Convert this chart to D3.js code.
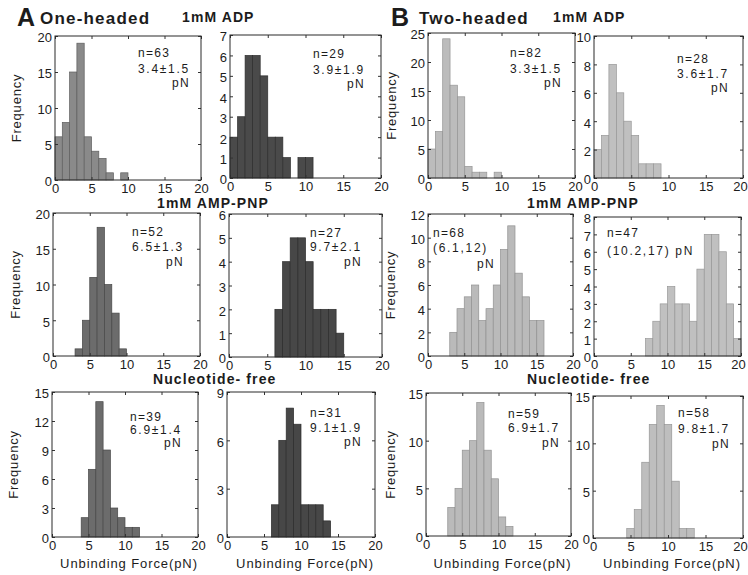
<!DOCTYPE html>
<html>
<head>
<meta charset="utf-8">
<script src="https://cdn.jsdelivr.net/npm/d3@7"></script>
<style>
  body { margin: 0; background: #fff; }
  svg text { font-family: "Liberation Sans", Arial, Helvetica, sans-serif; fill: #1c1c1c; }
</style>
</head>
<body>
<svg id="fig" width="748" height="575"></svg>
<script>
// Unbinding-force histograms (1 pN bins); counts start at the bin given in binStarts
const countsOneADP_a = [6, 8, 15, 19, 6, 4, 3, 1, 0, 1];
const countsOneADP_b = [2, 3, 6, 6, 5, 2, 2, 1, 0, 1, 1];
const countsTwoADP_a = [5, 8, 24, 16, 14, 2, 1, 1, 0, 1];
const countsTwoADP_b = [2, 3, 8, 6, 4, 3, 1, 1, 1];
const countsOneAMP_a = [1, 5, 11, 18, 10, 6, 1];
const countsOneAMP_b = [2, 4, 5, 5, 4, 2, 2, 2, 1];
const countsTwoAMP_a = [2, 4, 5, 6, 3, 4, 6, 9, 11, 7, 5, 3, 3];
const countsTwoAMP_b = [1, 2, 3, 4, 3, 3, 2, 5, 7, 7, 6, 3, 1];
const countsOneNF_a  = [2, 7, 14, 9, 3, 2, 1, 1];
const countsOneNF_b  = [2, 6, 8, 7, 2, 2, 2, 1];
const countsTwoNF_a  = [3, 5, 9, 10, 14, 9, 6, 2, 1];
const countsTwoNF_b  = [1, 3, 8, 12, 14, 12, 6, 1, 1];

const binStarts = [0, 0, 0, 0, 3, 6, 3, 7, 4, 6, 3, 4.5];
const yMaxes    = [20, 7, 25, 10, 20, 6, 12, 8, 15, 9, 15, 15];
const yTickStep = [5, 1, 5, 2, 5, 1, 2, 1, 3, 3, 5, 5];
const xTicks    = [0, 5, 10, 15, 20];
const sampleSizes = [63, 29, 82, 28, 52, 27, 68, 47, 39, 31, 59, 58];
const forceStats  = ["3.4\u00b11.5", "3.9\u00b11.9", "3.3\u00b11.5", "3.6\u00b11.7",
                     "6.5\u00b11.3", "9.7\u00b12.1", "(6.1,12)", "(10.2,17) pN",
                     "6.9\u00b11.4", "9.1\u00b11.9", "6.9\u00b11.7", "9.8\u00b11.7"];
const conditions  = ["1mM ADP", "1mM AMP-PNP", "Nucleotide- free"];
const constructs  = ["One-headed", "Two-headed"];
const letters     = ["A", "B"];
const yLabel = "Frequency";
const xLabel = "Unbinding Force(pN)";

const allCounts = [countsOneADP_a, countsOneADP_b, countsTwoADP_a, countsTwoADP_b,
                   countsOneAMP_a, countsOneAMP_b, countsTwoAMP_a, countsTwoAMP_b,
                   countsOneNF_a, countsOneNF_b, countsTwoNF_a, countsTwoNF_b];

// ---- layout ----
const boxes = [
  [55, 36, 201, 180], [230, 35, 381, 178], [428, 33, 575, 178], [594, 36, 743, 178],
  [53, 213, 200, 356], [229, 214, 382, 357], [428, 214, 573, 356], [594, 217, 741, 356],
  [52, 392, 198, 537], [227, 392, 375, 537], [426, 393, 571, 536], [593, 396, 743, 538]
];
const noteX  = [83, 83, 82, 83, 79, 81, 5, 13, 78, 83, 82, 85];
const noteDy = [[21, 37, 51], [23, 39, 53], [24, 40, 54], [27, 42, 56],
                [23, 38, 53], [23, 37, 52], [23, 38, 54], [20, 38, null],
                [29, 42, 55], [25, 40, 54], [25, 39, 54], [21, 37, 52]];
const fills   = ["#8a8a8a", "#4a4a4a", "#bcbcbc", "#c0c0c0",
                 "#6c6c6c", "#474747", "#bababa", "#c0c0c0",
                 "#6c6c6c", "#474747", "#bababa", "#bebebe"];
const strokes = ["#5e5e5e", "#2e2e2e", "#959595", "#989898",
                 "#484848", "#2c2c2c", "#929292", "#989898",
                 "#484848", "#2c2c2c", "#929292", "#969696"];

const svg = d3.select("#fig");
const intFmt = d3.format("d");

allCounts.forEach((counts, i) => {
  const [x0, y0, x1, y1] = boxes[i];
  const x = d3.scaleLinear().domain([0, 20]).range([x0, x1]);
  const y = d3.scaleLinear().domain([0, yMaxes[i]]).range([y1, y0]);
  const g = svg.append("g");

  const bins = counts.map((n, k) => ({ lo: binStarts[i] + k, hi: binStarts[i] + k + 1, n }))
                     .filter(d => d.n > 0);
  g.selectAll("rect.bar").data(bins).join("rect")
    .attr("class", "bar")
    .attr("x", d => x(d.lo))
    .attr("width", d => x(d.hi) - x(d.lo))
    .attr("y", d => y(d.n))
    .attr("height", d => y(0) - y(d.n))
    .attr("fill", fills[i])
    .attr("stroke", strokes[i])
    .attr("stroke-width", 0.7);

  const yTicks = d3.range(0, yMaxes[i] + 0.001, yTickStep[i]);

  const bottom = g.append("g").attr("transform", `translate(0,${y1})`)
    .call(d3.axisBottom(x).tickValues(xTicks).tickFormat(intFmt)
      .tickSizeInner(-3).tickSizeOuter(0).tickPadding(4));
  const left = g.append("g").attr("transform", `translate(${x0},0)`)
    .call(d3.axisLeft(y).tickValues(yTicks).tickFormat(intFmt)
      .tickSizeInner(-3).tickSizeOuter(0).tickPadding(3));
  const top = g.append("g").attr("transform", `translate(0,${y0})`)
    .call(d3.axisTop(x).tickValues(xTicks).tickSizeInner(-3).tickSizeOuter(0).tickFormat(""));
  const right = g.append("g").attr("transform", `translate(${x1},0)`)
    .call(d3.axisRight(y).tickValues(yTicks).tickSizeInner(-3).tickSizeOuter(0).tickFormat(""));

  [bottom, left, top, right].forEach(a => {
    a.select(".domain").remove();
    a.selectAll("line").attr("stroke", "#333").attr("stroke-width", 1);
    a.selectAll("text").attr("font-size", 13).attr("fill", "#1c1c1c")
      .style("font-family", '"Liberation Sans", Arial, sans-serif');
  });
  left.selectAll("text").attr("dy", "0.45em");
  // keep the last label of the right-hand column inside the page
  if (i % 4 === 3) {
    bottom.selectAll(".tick").filter(d => d === 20).select("text").attr("dx", -3);
  }

  g.append("rect")
    .attr("x", x0).attr("y", y0).attr("width", x1 - x0).attr("height", y1 - y0)
    .attr("fill", "none").attr("stroke", "#2a2a2a").attr("stroke-width", 1);

  // sample size and force summary
  const tx = x0 + noteX[i];
  const [d1, d2, d3y] = noteDy[i];
  const note = g.append("g").attr("font-size", 12).attr("letter-spacing", 1.3);
  note.append("text").attr("x", tx).attr("y", y0 + d1).text("n=" + sampleSizes[i]);
  const stat = note.append("text").attr("x", tx).attr("y", y0 + d2)
    .attr("letter-spacing", 1.7).text(forceStats[i]);
  if (d3y !== null) {
    const endX = i === 6 ? tx + 62 : tx + stat.node().getComputedTextLength();
    note.append("text").attr("x", endX).attr("y", y0 + d3y)
      .attr("text-anchor", "end").text("pN");
  }
});

// row headings
const headX = [[182, 553], [157, 527], [153, 527]];
const headY = [22, 208, 384];
conditions.forEach((c, r) => {
  headX[r].forEach(hx => {
    svg.append("text").attr("x", hx).attr("y", headY[r])
      .attr("font-size", 14).attr("font-weight", "bold").attr("letter-spacing", 1.1)
      .text(c);
  });
});

// panel letters and construct names
const letterX = [17, 391];
const nameX = [40, 419];
letters.forEach((L, k) => {
  svg.append("text").attr("x", letterX[k]).attr("y", 26)
    .attr("font-size", 25).attr("font-weight", "bold").text(L);
  svg.append("text").attr("x", nameX[k]).attr("y", 24)
    .attr("font-size", 17).attr("font-weight", "bold").attr("letter-spacing", 1.2)
    .text(constructs[k]);
});

// axis titles
const freqX = [[21, 396], [20, 395], [18, 395]];
[0, 1, 2].forEach(r => {
  [0, 2].forEach((c, k) => {
    const b = boxes[r * 4 + c];
    const cy = (b[1] + b[3]) / 2;
    svg.append("text")
      .attr("transform", `translate(${freqX[r][k]},${cy}) rotate(-90)`)
      .attr("text-anchor", "middle").attr("font-size", 13).attr("letter-spacing", 0.8)
      .text(yLabel);
  });
});
[8, 9, 10, 11].forEach(i => {
  const b = boxes[i];
  svg.append("text").attr("x", (b[0] + b[2]) / 2 + 4).attr("y", 568)
    .attr("text-anchor", "middle").attr("font-size", 13).attr("letter-spacing", 0.9)
    .text(xLabel);
});
</script>
</body>
</html>
